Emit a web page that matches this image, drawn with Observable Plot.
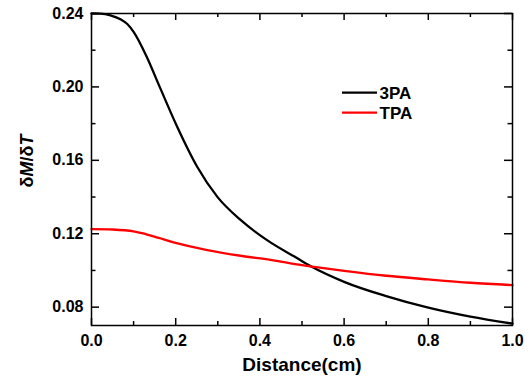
<!DOCTYPE html>
<html><head><meta charset="utf-8">
<script src="https://cdn.jsdelivr.net/npm/d3@7"></script>
<script src="https://cdn.jsdelivr.net/npm/@observablehq/plot@0.6"></script>
<style>body{margin:0;background:#fff;} #chart{width:530px;height:381px;}</style>
</head><body><div id="chart"></div>
<script>
const distance3PA = [0, 0.02, 0.045, 0.07, 0.085, 0.1, 0.13, 0.162, 0.2035, 0.251, 0.299, 0.354, 0.417, 0.489, 0.52, 0.6, 0.7, 0.8, 0.9, 1.0];
const values3PA   = [0.240, 0.2399, 0.239, 0.2367, 0.2343, 0.2300, 0.2170, 0.2000, 0.1783, 0.1565, 0.1401, 0.1275, 0.1165, 0.1066, 0.1024, 0.0938, 0.0860, 0.0797, 0.0748, 0.0710];
const distanceTPA = [0, 0.05, 0.1, 0.13, 0.16, 0.195, 0.275, 0.354, 0.425, 0.5, 0.6, 0.7, 0.8, 0.9, 1.0];
const valuesTPA   = [0.1225, 0.1223, 0.1213, 0.1197, 0.1177, 0.1153, 0.1111, 0.1080, 0.1058, 0.1029, 0.0998, 0.0971, 0.0951, 0.0933, 0.0920];
const seriesNames = ["3PA", "TPA"];
const seriesColors = ["black", "red"];
const xMajorTicks = [0, 0.2, 0.4, 0.6, 0.8, 1.0];
const xMinorTicks = [0.1, 0.3, 0.5, 0.7, 0.9];
const yMajorTicks = [0.08, 0.12, 0.16, 0.20, 0.24];
const yMinorTicks = [0.10, 0.14, 0.18, 0.22];
const xLabel = "Distance(cm)";

const W = 530, H = 381, ML = 91, MR = 18, MT = 13, MB = 56;
const FW = W - ML - MR, FH = H - MT - MB;

const rows = [
  ...distance3PA.map((x, i) => ({series: "3PA", x, y: values3PA[i]})),
  ...distanceTPA.map((x, i) => ({series: "TPA", x, y: valuesTPA[i]}))
];
const font = "'Liberation Sans', Arial, Helvetica, sans-serif";
const tstyle = {stroke: "black", strokeWidth: 1.5};
const xt = (data, side, len) => Plot.ruleX(data, {x: d => d, ...(side === "bottom" ? {insetTop: FH - len} : {insetBottom: FH - len}), ...tstyle});
const yt = (data, side, len) => Plot.ruleY(data, {y: d => d, ...(side === "left" ? {insetRight: FW - len} : {insetLeft: FW - len}), ...tstyle});

const chart = Plot.plot({
  width: W, height: H,
  marginLeft: ML, marginRight: MR, marginTop: MT, marginBottom: MB,
  x: {domain: [0, 1], axis: null},
  y: {domain: [0.07, 0.24], axis: null},
  color: {domain: seriesNames, range: seriesColors},
  style: {fontFamily: font, background: "white"},
  marks: [
    Plot.line(rows.filter(d => d.series === "3PA"), {x: "x", y: "y", stroke: "series", strokeWidth: 2.3, curve: "monotone-x"}),
    Plot.line(rows.filter(d => d.series === "TPA"), {x: "x", y: "y", stroke: "series", strokeWidth: 2.3, curve: "catmull-rom"}),
    xt(xMajorTicks, "bottom", 7), xt(xMinorTicks, "bottom", 4),
    xt(xMajorTicks, "top", 7), xt(xMinorTicks, "top", 4),
    yt(yMajorTicks, "left", 8), yt(yMinorTicks, "left", 4.5),
    yt(yMajorTicks, "right", 8), yt(yMinorTicks, "right", 4.5),
    Plot.frame({stroke: "black", strokeWidth: 1.5}),
    Plot.text(xMajorTicks, {x: d => d, frameAnchor: "bottom", lineAnchor: "middle", dy: 15, text: d => d.toFixed(1), fontSize: 16, fontWeight: "bold", fill: "black"}),
    Plot.text(yMajorTicks, {y: d => d, frameAnchor: "left", lineAnchor: "middle", dx: -8, textAnchor: "end", text: d => d.toFixed(2), fontSize: 16, fontWeight: "bold", fill: "black"}),
    Plot.text([xLabel], {frameAnchor: "bottom", lineAnchor: "middle", dy: 39, text: d => d, fontSize: 19, fontWeight: "bold", fill: "black"})
  ]
});
document.getElementById("chart").appendChild(chart);

const svg = d3.select(chart);
// y-axis label with italic M and T
const yl = svg.append("text")
  .attr("transform", "translate(28,161) rotate(-90)")
  .attr("text-anchor", "middle").attr("dominant-baseline", "middle")
  .attr("font-family", font).attr("font-size", 18).attr("font-weight", "bold").attr("fill", "black");
yl.append("tspan").text("δ");
yl.append("tspan").attr("font-style", "italic").text("M");
yl.append("tspan").text("/δ");
yl.append("tspan").attr("font-style", "italic").text("T");

// legend
const lg = svg.append("g");
seriesNames.forEach((name, i) => {
  const yy = 92.7 + i * 20;
  lg.append("line").attr("x1", 342).attr("x2", 377).attr("y1", yy).attr("y2", yy)
    .attr("stroke", seriesColors[i]).attr("stroke-width", 2.3);
  lg.append("text").attr("x", 379.5).attr("y", yy).attr("dy", "0.36em")
    .attr("text-anchor", "start")
    .attr("font-family", font).attr("font-size", 17).attr("font-weight", "bold").attr("fill", "black").text(name);
});
</script></body></html>
